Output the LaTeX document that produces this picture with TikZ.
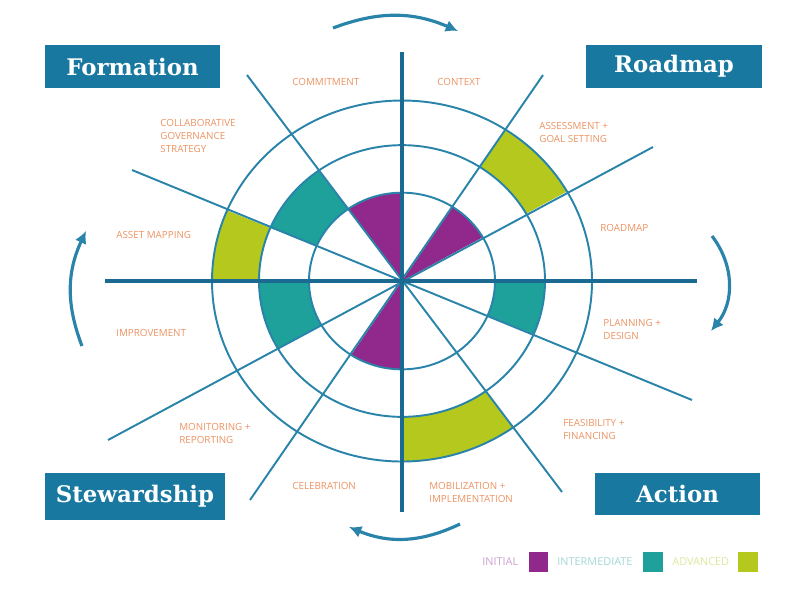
\documentclass[tikz,border=0pt]{standalone}
\usepackage{fontspec}
\setmainfont{Open Sans}
\newfontfamily\titlefont{DejaVu Serif}
\usetikzlibrary{arrows.meta}
\definecolor{boxblue}{RGB}{24,120,160}
\definecolor{linecol}{RGB}{42,132,170}
\definecolor{axiscol}{RGB}{26,106,146}
\definecolor{magentac}{RGB}{145,40,140}
\definecolor{tealc}{RGB}{30,160,155}
\definecolor{limec}{RGB}{180,200,30}
\definecolor{orangec}{RGB}{236,146,98}
\definecolor{paleinit}{RGB}{205,160,205}
\definecolor{paleinter}{RGB}{165,215,215}
\definecolor{paleadv}{RGB}{222,230,160}
\begin{document}
\begin{tikzpicture}[x=0.02cm,y=0.02cm,
  spoke/.style={draw=linecol,line width=1.1pt},
  axisline/.style={draw=axiscol,line width=2pt},
  ring/.style={draw=linecol,line width=1.1pt},
  cyclearrow/.style={draw=linecol,line width=1.8pt,-{Latex[length=7pt,width=7pt]}},
  titlebox/.style={fill=boxblue,text=white,inner sep=0pt,font=\titlefont\bfseries\fontsize{13}{15}\selectfont},
  lbl/.style={text=orangec,inner sep=0pt,anchor=west,align=left,font=\fontsize{5.6}{7.4}\selectfont},
  legtext/.style={inner sep=0pt,anchor=west,font=\fontsize{6.2}{7.4}\selectfont},
  legsq/.style={inner sep=0pt,minimum size=0.39cm}]
\useasboundingbox (0,0) rectangle (800,-600);
\coordinate (c) at (402,-281);
% fills and rings
\begin{scope}[shift={(c)},yscale=0.95]
  % magenta inner wedges
  \fill[magentac] (0,0) -- (29.75:93) arc[start angle=29.75,end angle=56.86,radius=93] -- cycle;
  \fill[magentac] (0,0) -- (90:93) arc[start angle=90,end angle=125.6,radius=93] -- cycle;
  \fill[magentac] (0,0) -- (236.86:93) arc[start angle=236.86,end angle=270,radius=93] -- cycle;
  % teal middle bands
  \fill[tealc] (125.6:93) arc[start angle=125.6,end angle=157,radius=93] -- (157:143) arc[start angle=157,end angle=125.6,radius=143] -- cycle;
  \fill[tealc] (180:93) arc[start angle=180,end angle=209.75,radius=93] -- (209.75:143) arc[start angle=209.75,end angle=180,radius=143] -- cycle;
  \fill[tealc] (337:93) arc[start angle=337,end angle=360,radius=93] -- (360:143) arc[start angle=360,end angle=337,radius=143] -- cycle;
  % lime outer bands
  \fill[limec] (29.75:143) arc[start angle=29.75,end angle=56.86,radius=143] -- (56.86:190) arc[start angle=56.86,end angle=29.75,radius=190] -- cycle;
  \fill[limec] (157:143) arc[start angle=157,end angle=180,radius=143] -- (180:190) arc[start angle=180,end angle=157,radius=190] -- cycle;
  \fill[limec] (270:143) arc[start angle=270,end angle=305.6,radius=143] -- (305.6:190) arc[start angle=305.6,end angle=270,radius=190] -- cycle;
  % rings
  \draw[ring] (0,0) circle[radius=93];
  \draw[ring] (0,0) circle[radius=143];
  \draw[ring] (0,0) circle[radius=190];
\end{scope}
% spokes
\coordinate (s1a) at (653,-147); \coordinate (s1b) at (108,-440);
\coordinate (s2a) at (543,-75);  \coordinate (s2b) at (250,-500);
\coordinate (s3a) at (247,-75);  \coordinate (s3b) at (562,-492);
\coordinate (s4a) at (132,-170); \coordinate (s4b) at (692,-400);
\draw[spoke] (s1a) -- (s1b);
\draw[spoke] (s2a) -- (s2b);
\draw[spoke] (s3a) -- (s3b);
\draw[spoke] (s4a) -- (s4b);
\coordinate (ha) at (105,-281); \coordinate (hb) at (697,-281);
\coordinate (va) at (402,-52);  \coordinate (vb) at (402,-512);
\draw[axisline] (ha) -- (hb);
\draw[axisline] (va) -- (vb);
% labels
\node[lbl] (commit) at (292,-82) {COMMITMENT};
\node[lbl] (context) at (437,-82) {CONTEXT};
\node[lbl] (collab) at (160,-136) {COLLABORATIVE\\GOVERNANCE\\STRATEGY};
\node[lbl] (assess) at (539,-132) {ASSESSMENT +\\GOAL SETTING};
\node[lbl] (roadmaplbl) at (600,-228) {ROADMAP};
\node[lbl] (asset) at (116,-235) {ASSET MAPPING};
\node[lbl] (improve) at (116,-333) {IMPROVEMENT};
\node[lbl] (plan) at (603,-329) {PLANNING +\\DESIGN};
\node[lbl] (monitor) at (179,-433) {MONITORING +\\REPORTING};
\node[lbl] (celebr) at (292,-486) {CELEBRATION};
\node[lbl] (feas) at (563,-429) {FEASIBILITY +\\FINANCING};
\node[lbl] (mobil) at (429,-492) {MOBILIZATION +\\IMPLEMENTATION};
% title boxes
\node[titlebox,minimum width=3.5cm,minimum height=0.86cm] (formation) at (132.5,-66.5) {Formation};
\node[titlebox,minimum width=3.52cm,minimum height=0.86cm] (roadmap) at (674,-66.5) {Roadmap};
\node[titlebox,minimum width=3.6cm,minimum height=0.94cm] (steward) at (135,-496.5) {Stewardship};
\node[titlebox,minimum width=3.3cm,minimum height=0.84cm] (action) at (677.5,-494) {Action};
% cycle arrows
\coordinate (ta1) at (333,-28); \coordinate (ta2) at (458,-31);
\coordinate (ra1) at (712,-236); \coordinate (ra2) at (711,-331);
\coordinate (ba1) at (460,-524); \coordinate (ba2) at (349,-527);
\coordinate (la1) at (82,-346); \coordinate (la2) at (86,-231);
\draw[cyclearrow] (ta1) to[bend left=22] (ta2);
\draw[cyclearrow] (ra1) to[bend left=38] (ra2);
\draw[cyclearrow] (ba1) to[bend left=24] (ba2);
\draw[cyclearrow] (la1) to[bend left=23] (la2);
% legend
\node[legtext,text=paleinit] (initl) at (482,-562) {INITIAL};
\node[legsq,fill=magentac] (initsq) at (538.5,-562) {};
\node[legtext,text=paleinter] (interl) at (557,-562) {INTERMEDIATE};
\node[legsq,fill=tealc] (intersq) at (653,-562) {};
\node[legtext,text=paleadv] (advl) at (672,-562) {ADVANCED};
\node[legsq,fill=limec] (advsq) at (748,-562) {};
\end{tikzpicture}
\end{document}
